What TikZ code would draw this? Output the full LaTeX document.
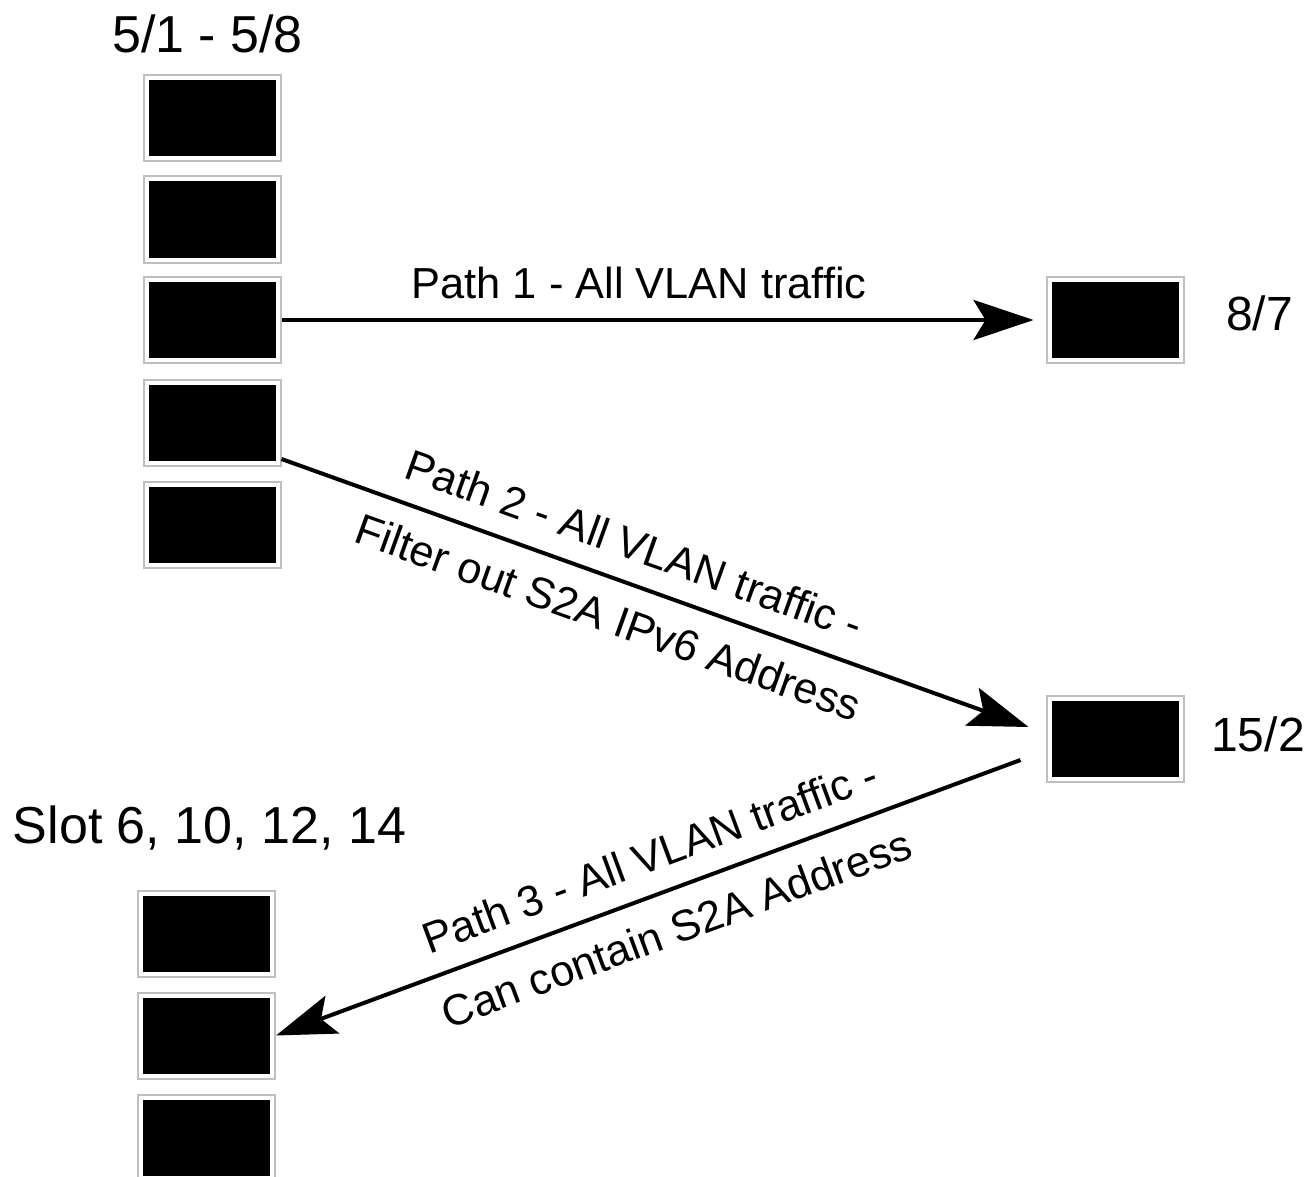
\documentclass[tikz,border=0pt]{standalone}
\usepackage{fontspec}
\setmainfont{Liberation Sans}
\usetikzlibrary{arrows.meta}

\begin{document}
\begin{tikzpicture}[x=0.5pt,y=-0.5pt,
    port/.style={draw=white,line width=2pt,fill=black,minimum width=65.5pt,minimum height=40pt,inner sep=0pt,outer sep=2pt,preaction={draw=black!25,line width=4pt}},
    lbl/.style={font=\fontsize{26}{31}\selectfont,anchor=base},
    side/.style={font=\fontsize{24}{29}\selectfont,anchor=base},
    note/.style={font=\fontsize{21.7}{38.5}\selectfont,align=center},
    link/.style={line width=2pt,-{Stealth[length=30pt,width=20pt,inset=6pt]}}]

    \useasboundingbox (0,0) rectangle (1307,1177);

    \node[port] (1) at (212,118.5) {};
    \node[port] (2) at (212,219.5) {};
    \node[port] (3) at (212,320) {};
    \node[port] (4) at (212,423) {};
    \node[port] (5) at (212,525) {};
    \node[lbl] (t1) at (207.5,53) {5/1 - 5/8};

    \node[port] (6) at (1115,320) {};
    \node[side] (t6) at (1259.5,330) {8/7};

    \node[port] (7) at (1115,739) {};
    \node[side] (t7) at (1258,751) {15/2};

    \node[port] (8) at (206.5,933.5) {};
    \node[port] (9) at (206.5,1035.5) {};
    \node[port] (10) at (206.5,1137.5) {};
    \node[lbl] (t8) at (209.5,843) {Slot 6, 10, 12, 14};

    \draw[link,shorten >=6pt] (3.east) -- (6.west)
        node[note,pos=0.468,anchor=base,yshift=11pt] (n1) {Path 1 - All VLAN traffic};
    \draw[link] ([yshift=4pt]4.south east) -- ([xshift=-8.5pt,yshift=6pt]7.west)
        node[note,sloped,pos=0.455] (n2) {Path 2 - All VLAN traffic -\\Filter out S2A IPv6 Address};
    \draw[link] ([xshift=-12.5pt,yshift=-10.5pt]7.west) -- (9.east)
        node[note,sloped,pos=0.48] (n3) {Path 3 - All VLAN traffic -\\Can contain S2A Address};

\end{tikzpicture}
\end{document}
